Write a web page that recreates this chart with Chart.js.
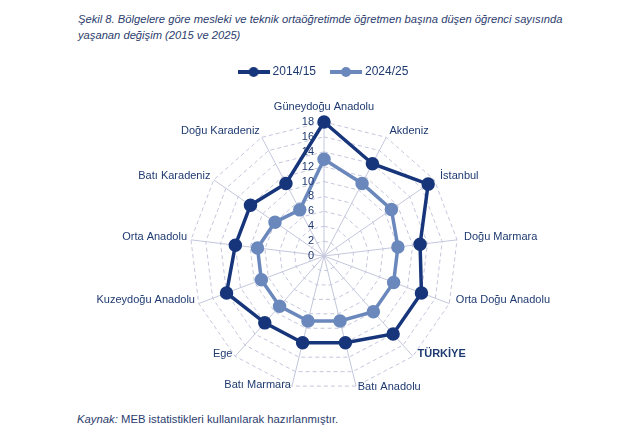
<!DOCTYPE html>
<html>
<head>
<meta charset="utf-8">
<script src="https://cdn.jsdelivr.net/npm/chart.js@4"></script>
<style>
  html, body { margin: 0; padding: 0; background: #fff; }
  body { width: 627px; height: 441px; position: relative; overflow: hidden; font-family: "Liberation Sans", Arial, sans-serif; }
  #title { position: absolute; left: 78px; top: 11px; font-size: 11.2px; font-style: italic; color: #2c3d6e; line-height: 16px; white-space: nowrap; }
  #source { position: absolute; left: 77px; top: 413px; font-size: 11.3px; color: #2c3d6e; white-space: nowrap; }
  #wrap { position: absolute; left: 11px; top: 49px; width: 627px; height: 356px; }
</style>
</head>
<body>
<div id="title">Şekil 8. Bölgelere göre mesleki ve teknik ortaöğretimde öğretmen başına düşen öğrenci sayısında<br>yaşanan değişim (2015 ve 2025)</div>
<div id="wrap"><canvas id="c"></canvas></div>
<div id="source"><i>Kaynak:</i> MEB istatistikleri kullanılarak hazırlanmıştır.</div>
<script>
const categories = ["Güneydoğu Anadolu", "Akdeniz", "İstanbul", "Doğu Marmara", "Orta Doğu Anadolu", "TÜRKİYE", "Batı Anadolu", "Batı Marmara", "Ege", "Kuzeydoğu Anadolu", "Orta Anadolu", "Batı Karadeniz", "Doğu Karadeniz"];
const series2014 = [18, 14, 17, 13, 14, 14, 12, 12, 12, 14, 12, 12, 11];
const series2024 = [13, 11, 11, 10, 10, 10, 9, 9, 9, 9, 9, 8, 7];
const tickValues = [0, 2, 4, 6, 8, 10, 12, 14, 16, 18];

const darkBlue = "#17357a";
const lightBlue = "#6b88bd";
const textColor = "#1f3a70";
const gridColor = "#c4c7dc";
const fam = "'Liberation Sans', Arial, sans-serif";

function legendIcon(color) {
  const cv = document.createElement("canvas");
  cv.width = 32; cv.height = 12;
  const g = cv.getContext("2d");
  g.strokeStyle = color; g.lineWidth = 4;
  g.beginPath(); g.moveTo(0, 6); g.lineTo(32, 6); g.stroke();
  g.fillStyle = color;
  g.beginPath(); g.arc(16, 6, 5, 0, Math.PI * 2); g.fill();
  return cv;
}

const legendSpacer = {
  id: "legendSpacer",
  beforeInit(chart) {
    const origFit = chart.legend.fit;
    chart.legend.fit = function () { origFit.call(this); this.height += 34; };
  }
};

// category labels and tick labels placed from the radial scale geometry
const labelPlugin = {
  id: "radarLabels",
  afterDatasetsDraw(chart) {
    const s = chart.scales.r;
    const ctx = chart.ctx;
    ctx.save();
    ctx.fillStyle = textColor;
    ctx.textBaseline = "middle";
    categories.forEach((name, i) => {
      const a = s.getIndexAngle(i);
      const sn = Math.sin(a), cs = Math.cos(a);
      const end = s.getPointPosition(i, s.drawingArea);
      ctx.font = (i === 5 ? "bold " : "") + "11px " + fam;
      let x, y;
      if (Math.abs(sn) < 0.05) {
        ctx.textAlign = "center";
        x = end.x;
        y = end.y - 15;
      } else {
        ctx.textAlign = sn > 0 ? "left" : "right";
        x = end.x + (sn > 0 ? 7 : 4) * sn;
        y = end.y - 7 * cs;
        if (cs < 0) y -= 6 * Math.min(1, -cs * 2);
        if (cs < 0.3 && i !== 6) y -= 2;
      }
      ctx.fillText(name, x, y);
    });
    ctx.font = "11px " + fam;
    ctx.textAlign = "right";
    tickValues.forEach(v => {
      const d = s.getDistanceFromCenterForValue(v);
      ctx.fillText(String(v), s.xCenter - 10, s.yCenter - d);
    });
    ctx.restore();
  }
};

new Chart(document.getElementById("c"), {
  type: "radar",
  data: {
    labels: categories,
    datasets: [
      { label: "2014/15", data: series2014, borderColor: darkBlue, backgroundColor: darkBlue, pointBackgroundColor: darkBlue, pointBorderColor: darkBlue, borderWidth: 3.5, pointRadius: 5, fill: false, clip: false },
      { label: "2024/25", data: series2024, borderColor: lightBlue, backgroundColor: lightBlue, pointBackgroundColor: lightBlue, pointBorderColor: lightBlue, borderWidth: 3.5, pointRadius: 5, fill: false, clip: false }
    ]
  },
  options: {
    responsive: true,
    maintainAspectRatio: false,
    animation: false,
    layout: { padding: { top: 0, left: 0, right: 0, bottom: 15 } },
    plugins: {
      tooltip: { enabled: false },
      legend: {
        position: "top",
        labels: {
          usePointStyle: true,
          pointStyleWidth: 26,
          boxHeight: 12,
          color: textColor,
          padding: 17,
          font: { family: fam, size: 12 },
          generateLabels(chart) {
            const items = Chart.defaults.plugins.legend.labels.generateLabels(chart);
            items.forEach((it, i) => { it.pointStyle = legendIcon(i === 0 ? darkBlue : lightBlue); it.fontColor = textColor; });
            return items;
          }
        }
      }
    },
    scales: {
      r: {
        min: 0, max: 18,
        ticks: { stepSize: 2, display: false },
        grid: { color: gridColor, lineWidth: 1 },
        border: { dash: [4, 3] },
        angleLines: { color: gridColor, lineWidth: 1 },
        pointLabels: { display: false }
      }
    }
  },
  plugins: [legendSpacer, labelPlugin]
});
</script>
</body>
</html>
